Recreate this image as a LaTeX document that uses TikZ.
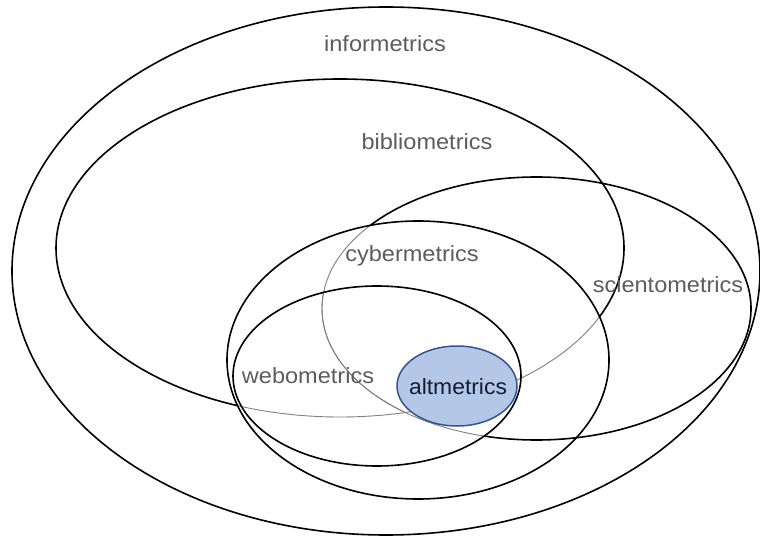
\documentclass[tikz,border=0pt]{standalone}
\usepackage{fontspec}
\setmainfont{Liberation Sans}
\definecolor{lblgray}{HTML}{5C5C5C}
\definecolor{altfill}{HTML}{B4C7E7}
\definecolor{altdraw}{HTML}{36558E}
\definecolor{alttext}{HTML}{141C33}
\newcommand\lblsize{\fontsize{22pt}{26pt}\selectfont}
\begin{document}
\begin{tikzpicture}[x=1pt,y=-1pt,
  mainline/.style={line width=1.6pt, black},
  faint/.style={line width=0.9pt, black!50},
  lbl/.style={font=\lblsize, text=lblgray, anchor=base, inner sep=0pt, xscale=1.07},
  altlbl/.style={font=\lblsize, text=alttext, anchor=base, inner sep=0pt, xscale=1.04}]
\useasboundingbox (0,0) rectangle (760,537);
\def\outerE{(386,271) ellipse [x radius=374pt, y radius=264pt]}
\def\bibE{(340,248) ellipse [x radius=284pt, y radius=169pt]}
\def\sciE{(536.5,308.5) ellipse [x radius=214.5pt, y radius=131.5pt]}
\def\cyberE{(418,360) ellipse [x radius=191pt, y radius=139pt]}
\def\weboE{(377,376) ellipse [x radius=144pt, y radius=90pt]}
\def\bigR{(-20,-20) rectangle (800,560)}
% bibliometrics: black outside cybermetrics, faint inside
\begin{scope}[even odd rule]
  \clip \bigR \cyberE;
  \draw[mainline] \bibE;
\end{scope}
\begin{scope}
  \clip \cyberE;
  \draw[faint] \bibE;
\end{scope}
% scientometrics
\begin{scope}[even odd rule]
  \clip \bigR \cyberE;
  \draw[mainline] \sciE;
\end{scope}
\begin{scope}[even odd rule]
  \clip \cyberE;
  \clip \bigR \bibE;
  \clip \bigR \weboE;
  \draw[mainline] \sciE;
\end{scope}
\begin{scope}
  \clip \cyberE;
  \clip \bibE;
  \draw[faint] \sciE;
\end{scope}
\begin{scope}
  \clip \cyberE;
  \clip \weboE;
  \draw[faint] \sciE;
\end{scope}
% full outlines
\draw[mainline] \outerE;
\draw[mainline] \cyberE;
\draw[mainline] \weboE;
\draw[altdraw, fill=altfill, line width=1.5pt] (457,386) ellipse [x radius=60pt, y radius=40pt];
% labels
\node[lbl] (inf) at (385,52) {informetrics};
\node[lbl] (bib) at (427,150) {bibliometrics};
\node[lbl] (cyb) at (412,261.5) {cybermetrics};
\node[lbl] (sci) at (668,292.5) {scientometrics};
\node[lbl] (web) at (308,383.5) {webometrics};
\node[altlbl] (alt) at (458,394) {altmetrics};
\end{tikzpicture}
\end{document}
